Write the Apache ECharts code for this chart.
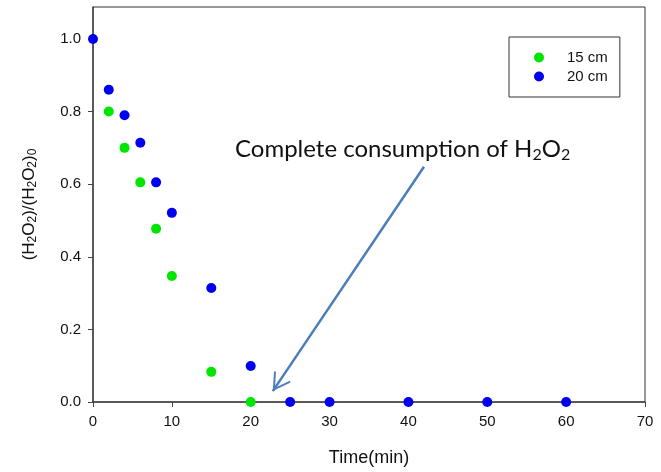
<!DOCTYPE html>
<html>
<head>
<meta charset="utf-8">
<script src="https://cdn.jsdelivr.net/npm/echarts@6/dist/echarts.min.js"></script>
<style>
  html, body { margin: 0; padding: 0; background: #fff; }
  #chart { width: 661px; height: 472px; }
</style>
</head>
<body>
<div id="chart"></div>
<script>
// 数据
var time15 = [2, 4, 6, 8, 10, 15, 20];
var ratio15 = [0.80, 0.70, 0.605, 0.477, 0.347, 0.083, 0.0];
var time20 = [0, 2, 4, 6, 8, 10, 15, 20, 25, 30, 40, 50, 60];
var ratio20 = [1.0, 0.86, 0.79, 0.714, 0.605, 0.521, 0.314, 0.099, 0.0, 0.0, 0.0, 0.0, 0.0];
var yTicks = [0, 0.2, 0.4, 0.6, 0.8, 1.0];
var seriesNames = ['15 cm', '20 cm'];
// 箭头起点和终点 (数据坐标)
var arrowFrom = [41.97, 0.648];
var arrowTo = [22.8, 0.030];

function pairs(xs, ys) {
    return xs.map(function (x, i) { return [x, ys[i]]; });
}

var chart = echarts.init(document.getElementById('chart'));

var axisColor = '#444';
var font = 'Liberation Sans, Arial, sans-serif';

var option = {
    animation: false,
    title: {
        text: '{n|Complete consumption of H}{s|2}{n|O}{s|2}',
        left: 230,
        top: 130,
        textStyle: {
            rich: {
                n: { fontFamily: 'Lato', fontWeight: 'normal', fontSize: 24, lineHeight: 28, color: '#111' },
                s: { fontFamily: 'Lato', fontWeight: 'normal', fontSize: 16, lineHeight: 13, verticalAlign: 'bottom', color: '#111' }
            }
        }
    },
    legend: {
        orient: 'vertical',
        left: 509,
        top: 37,
        padding: [13, 12, 13, 25],
        itemGap: 4,
        itemWidth: 46,
        itemHeight: 10,
        borderColor: '#333',
        borderWidth: 1,
        icon: 'circle',
        data: seriesNames,
        textStyle: { fontFamily: font, fontSize: 15, color: '#111' }
    },
    grid: {
        left: 93,
        right: 16,
        top: 7,
        bottom: 69,
        show: true,
        borderColor: '#333',
        borderWidth: 1
    },
    xAxis: {
        type: 'value',
        min: 0,
        max: 70,
        interval: 10,
        name: 'Time(min)',
        nameLocation: 'middle',
        nameGap: 47,
        nameTextStyle: { fontFamily: font, fontSize: 18, color: '#111' },
        splitLine: { show: false },
        axisLine: { lineStyle: { color: axisColor, width: 1.5 } },
        axisTick: { length: 5, lineStyle: { color: axisColor } },
        axisLabel: { margin: 12, fontFamily: font, fontSize: 15, color: '#111' }
    },
    yAxis: {
        type: 'value',
        min: 0,
        max: 1.088,
        name: '{n|(H}{s|2}{n|O}{s|2}{n|)/(H}{s|2}{n|O}{s|2}{n|)}{s|0}',
        nameLocation: 'middle',
        nameGap: 54,
        nameTextStyle: {
            rich: {
                n: { fontFamily: font, fontSize: 17, lineHeight: 20, color: '#111' },
                s: { fontFamily: font, fontSize: 12, lineHeight: 10, verticalAlign: 'bottom', color: '#111' }
            }
        },
        splitLine: { show: false },
        axisLine: { show: true, lineStyle: { color: axisColor, width: 1.5 } },
        axisTick: { show: true, length: 5, customValues: yTicks, lineStyle: { color: axisColor } },
        axisLabel: {
            margin: 12,
            customValues: yTicks,
            fontFamily: font,
            fontSize: 15,
            color: '#111',
            formatter: function (v) { return v.toFixed(1); }
        }
    },
    series: [{
        name: seriesNames[0],
        type: 'scatter',
        symbolSize: 10,
        itemStyle: { color: '#00e600', opacity: 1 },
        data: pairs(time15, ratio15)
    }, {
        name: seriesNames[1],
        type: 'scatter',
        symbolSize: 10,
        itemStyle: { color: '#0000f0', opacity: 1 },
        data: pairs(time20, ratio20),
        markLine: {
            silent: true,
            symbol: ['none', 'path://M0,-18 L0.01,-18 L0,-17.99 Z M0,0 L10,17 L8.3,18 L0,4 L-8.3,18 L-10,17 Z'],
            symbolSize: [20, 36],
            label: { show: false },
            lineStyle: { color: '#4a7ebb', width: 2.5, type: 'solid' },
            data: [[{ coord: arrowFrom }, { coord: arrowTo }]]
        }
    }]
};

chart.setOption(option);
</script>
</body>
</html>
